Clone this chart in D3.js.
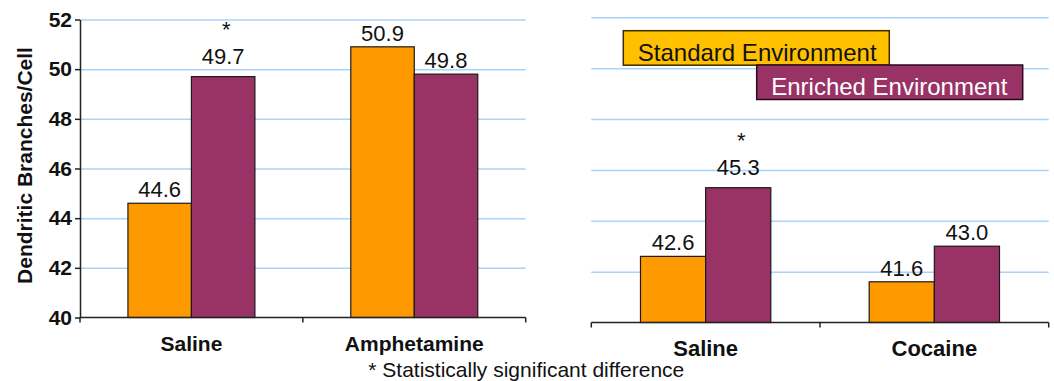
<!DOCTYPE html>
<html>
<head>
<meta charset="utf-8">
<script src="https://cdn.jsdelivr.net/npm/d3@7"></script>
<style>
  html, body { margin: 0; padding: 0; background: #fff; }
  svg { display: block; font-family: Arial, "Liberation Sans", sans-serif; }
  .grid line { stroke: #a9d3fb; stroke-width: 1.5; }
  .grid path { display: none; }
  .axis path, .axis line { stroke: #222; stroke-width: 1.5; }
</style>
</head>
<body>
<div id="chart"></div>
<script>
// ---- data ----
const seriesNames = ["Standard Environment", "Enriched Environment"];
const seriesColours = ["#ff9900", "#993366"];

const leftGroups   = ["Saline", "Amphetamine"];
const leftStandard = [44.6, 50.9];
const leftEnriched = [49.7, 49.8];
const leftSig      = [true, false];

const rightGroups   = ["Saline", "Cocaine"];
const rightStandard = [42.6, 41.6];
const rightEnriched = [45.3, 43.0];
const rightSig      = [true, false];

const yTicks = [40, 42, 44, 46, 48, 50, 52];
const yTitle = "Dendritic Branches/Cell";
const footnote = "* Statistically significant difference";

// ---- chart ----
const fullW = 1054, fullH = 381;
const svg = d3.select("#chart").append("svg")
  .attr("width", fullW).attr("height", fullH);

const fmt = d3.format(".1f");

function panel(opts) {
  const { groups, standard, enriched, sig, x0r, yr, showY, labelSize } = opts;
  const rows = groups.map((g, i) => ({
    group: g, sig: sig[i],
    values: [standard[i], enriched[i]]
  }));

  const y = d3.scaleLinear().domain([40, 52]).range(yr);
  const x0 = d3.scaleBand().domain(groups).range(x0r);
  const x1 = d3.scaleBand().domain(seriesNames)
    .range([0, x0.bandwidth()]).paddingOuter(0.755).paddingInner(0);

  const g = svg.append("g");

  // gridlines
  g.append("g").attr("class", "grid")
    .attr("transform", `translate(${x0r[0]},0)`)
    .call(d3.axisLeft(y).tickValues(yTicks.slice(1)).tickSize(-(x0r[1] - x0r[0])).tickFormat(""));

  // bars
  const grp = g.selectAll(".grp").data(rows).enter().append("g")
    .attr("transform", d => `translate(${x0(d.group)},0)`);

  grp.selectAll("rect").data(d => d.values.map((v, j) => ({ v, s: seriesNames[j], c: seriesColours[j] })))
    .enter().append("rect")
    .attr("x", d => x1(d.s))
    .attr("width", x1.bandwidth())
    .attr("y", d => y(d.v))
    .attr("height", d => y(40) - y(d.v))
    .attr("fill", d => d.c)
    .attr("stroke", "#1a1a1a")
    .attr("stroke-width", 1.2);

  // value labels (raised a little more when flagged significant)
  grp.each(function(d) {
    const sel = d3.select(this);
    d.values.forEach((v, j) => {
      const cx = x1(seriesNames[j]) + x1.bandwidth() / 2;
      const raise = (j === 1 && d.sig) ? 13 : 6;
      const base = y(v) - raise;
      sel.append("text")
        .attr("x", cx).attr("y", base)
        .attr("text-anchor", "middle")
        .attr("font-size", 22)
        .attr("fill", "#111")
        .text(fmt(v));
      if (j === 1 && d.sig) {
        sel.append("text")
          .attr("x", cx + 3).attr("y", base - 27)
          .attr("text-anchor", "middle")
          .attr("font-size", 22)
          .attr("fill", "#111")
          .text("*");
      }
    });
  });

  // x axis
  const xAxis = g.append("g").attr("class", "axis")
    .attr("transform", `translate(0,${y(40)})`);
  xAxis.append("line")
    .attr("x1", x0r[0]).attr("x2", x0r[1])
    .attr("stroke", "#222").attr("stroke-width", 1.5);
  const tickXs = [x0r[0]].concat(groups.map(gg => x0(gg) + x0.bandwidth()));
  xAxis.selectAll(".tk").data(tickXs).enter().append("line")
    .attr("x1", d => d).attr("x2", d => d)
    .attr("y1", 0).attr("y2", 5)
    .attr("stroke", "#222").attr("stroke-width", 1.5);
  xAxis.selectAll(".lbl").data(groups).enter().append("text")
    .attr("x", d => x0(d) + x0.bandwidth() / 2)
    .attr("y", 33.3)
    .attr("text-anchor", "middle")
    .attr("font-size", labelSize)
    .attr("font-weight", "bold")
    .attr("fill", "#111")
    .text(d => d);

  if (showY) {
    const yAxis = g.append("g").attr("class", "axis")
      .attr("transform", `translate(${x0r[0]},0)`)
      .call(d3.axisLeft(y).tickValues(yTicks).tickSize(5).tickPadding(3).tickSizeOuter(0));
    yAxis.selectAll("text")
      .attr("font-size", 21).attr("font-weight", "bold")
      .attr("fill", "#111").attr("font-family", "Arial, 'Liberation Sans', sans-serif");
  }
  return y;
}

panel({
  groups: leftGroups, standard: leftStandard, enriched: leftEnriched, sig: leftSig,
  x0r: [80, 525.7], yr: [317.5, 19.5], showY: true, labelSize: 21
});
panel({
  groups: rightGroups, standard: rightStandard, enriched: rightEnriched, sig: rightSig,
  x0r: [591.3, 1048.7], yr: [322.5, 17.3], showY: false, labelSize: 22
});

// y title
svg.append("text")
  .attr("transform", `translate(32,165.5) rotate(-90)`)
  .attr("text-anchor", "middle")
  .attr("font-size", 21)
  .attr("font-weight", "bold")
  .attr("fill", "#111")
  .text(yTitle);

// legend boxes
const legend = [
  { name: seriesNames[0], fill: "#ffc000", stroke: "#3a2a00", text: "#111", x: 623.3, y: 30.7 },
  { name: seriesNames[1], fill: "#993366", stroke: "#2a0a1c", text: "#fff", x: 756.7, y: 65 }
];
const lg = svg.append("g").selectAll("g").data(legend).enter().append("g")
  .attr("transform", d => `translate(${d.x},${d.y})`);
lg.append("rect")
  .attr("width", 266).attr("height", 34.5)
  .attr("fill", d => d.fill)
  .attr("stroke", d => d.stroke).attr("stroke-width", 1.5);
lg.append("text")
  .attr("x", 14.5).attr("y", 30)
  .attr("font-size", 24)
  .attr("fill", d => d.text)
  .text(d => d.name);

// footnote
svg.append("text")
  .attr("x", 526.3).attr("y", 377)
  .attr("text-anchor", "middle")
  .attr("font-size", 21)
  .attr("fill", "#111")
  .text(footnote);
</script>
</body>
</html>
